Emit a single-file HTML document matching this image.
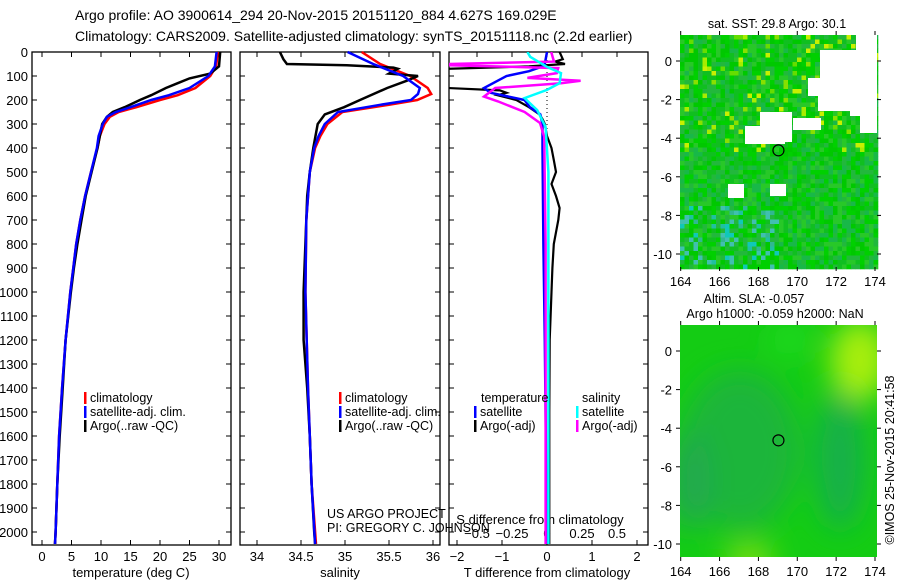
<!DOCTYPE html>
<html><head><meta charset="utf-8"><style>
html,body{margin:0;padding:0;background:#fff;}
svg{display:block;font-family:"Liberation Sans",sans-serif;}
</style></head><body>
<svg id="c" width="900" height="580" viewBox="0 0 900 580" xmlns="http://www.w3.org/2000/svg">
<rect width="900" height="580" fill="#fff"/>
<text x="75" y="20" font-size="14">Argo profile: AO 3900614_294 20-Nov-2015 20151120_884 4.627S 169.029E</text>
<text x="75" y="41" font-size="14">Climatology: CARS2009. Satellite-adjusted climatology: synTS_20151118.nc (2.2d earlier)</text>
<g id="maps"></g>
<g id="panels"></g>
</svg>
<script>
// ---------- data ----------
const tDepth = [0,60,90,110,130,150,180,200,230,250,270,300,400,500,600,700,800,900,1000,1200,1400,1600,1800,2000,2050];
const tArgo  = [30.2,30.0,28.5,25,23,21,18.5,16.6,14,12,11,10.2,9.4,8.4,7.4,6.7,6.0,5.4,4.9,4.0,3.5,3.0,2.6,2.3,2.2];
const tClimDepth = [0,60,100,150,180,200,230,250,270,300,350,400,500,600,700,800,900,1000,1200,1400,1600,1800,2000,2050];
const tClim  = [29.8,29.5,28.5,26,23,20,16,13,11.5,10.6,9.8,9.4,8.3,7.3,6.5,5.8,5.3,4.8,4.0,3.4,2.9,2.6,2.3,2.2];
const tSat   = [29.6,29.3,28.2,25,21.5,18.5,15,12.5,11,10.3,9.6,9.3,8.3,7.3,6.5,5.8,5.3,4.8,4.0,3.4,2.9,2.6,2.3,2.2];

const sArgoDepth = [0,30,50,55,65,70,90,100,120,150,200,230,260,300,400,500,600,800,1000,1200,1400,1600,1800,2000,2050];
const sArgo = [34.26,34.3,34.34,35.02,35.55,35.6,35.5,35.83,35.7,35.48,35.17,34.99,34.77,34.69,34.64,34.6,34.57,34.55,34.53,34.53,34.57,34.6,34.62,34.65,34.66];
const sClimDepth = [0,50,100,150,175,200,220,250,300,350,400,500,700,1000,1400,1800,2050];
const sClim = [35.19,35.4,35.74,35.94,35.98,35.82,35.5,34.97,34.8,34.72,34.66,34.6,34.56,34.55,34.58,34.62,34.67];
const sSat  = [35.03,35.32,35.66,35.85,35.83,35.75,35.4,34.92,34.77,34.7,34.65,34.6,34.56,34.55,34.58,34.62,34.66];

const dTArgoDepth = [0,30,40,50,60,70,80,150,160,170,180,200,230,260,280,300,350,400,450,500,550,600,650,700,800,900,1000,1100,1200,1500,2050];
const dTArgo = [0.28,0.35,0.18,0.4,-0.4,-2.2,-2.3,-2.2,-1.05,-0.9,-1.1,-0.68,-0.4,-0.17,-0.1,-0.05,0,0.1,0.15,0.2,0.1,0.2,0.28,0.25,0.15,0.12,0.1,0.08,0.06,0.05,0.05];
const dTSatDepth = [0,50,60,80,100,120,150,170,200,230,260,300,400,800,1200,2050];
const dTSat = [0,-0.05,-0.1,-0.4,-0.9,-1.1,-1.4,-1.25,-0.5,-0.38,-0.15,-0.1,-0.1,-0.08,-0.05,0];
const dSArgoDepth = [0,40,50,55,67,88,108,120,130,150,186,206,250,296,353,800,2050];
const dSArgo = [0.03,0.05,-0.7,-0.7,0.08,0.07,-0.14,0.24,0.1,-0.37,-0.45,-0.35,-0.16,-0.05,-0.02,-0.01,-0.01];
const dSSatDepth = [0,20,62,88,130,158,192,242,312,500,2050];
const dSSat = [-0.14,-0.12,0,0.1,0.09,0,-0.16,-0.07,-0.01,0.01,0.01];

const depthTicks = [0,100,200,300,400,500,600,700,800,900,1000,1100,1200,1300,1400,1500,1600,1700,1800,1900,2000];
const tempTicks = [0,5,10,15,20,25,30];
const salTicks = [34,34.5,35,35.5,36];
const dTTicks = [-2,-1,0,1,2];
const dSTicks = [-0.5,-0.25,0,0.25,0.5];
const lonTicks = [164,166,168,170,172,174];
const latTicks = [0,-2,-4,-6,-8,-10];

// ---------- helpers ----------
const NS="http://www.w3.org/2000/svg";
const G=document.getElementById('panels');
function mk(tag,attrs,parent){const e=document.createElementNS(NS,tag);for(const k in attrs)e.setAttribute(k,attrs[k]);(parent||G).appendChild(e);return e;}
const yTop=52, yBot=545;
const yD=d=>yTop+d*0.24;
const xT=t=>42+t*5.9;
const xS=s=>257+(s-34)*88;
const xDT=v=>547+v*45;
const xDS=v=>547+v*140;

function line(depths,vals,xf,color,w,name,minX){
  const lo=(minX===undefined)?-1e9:minX;
  const pts=depths.map((d,i)=>Math.max(lo,xf(vals[i])).toFixed(1)+','+yD(d).toFixed(1)).join(' ');
  const p=mk('polyline',{points:pts,fill:'none',stroke:color,'stroke-width':w});
  
  
  return p;
}
function frame(x0,x1,name){
  const r=mk('rect',{x:x0,y:yTop,width:x1-x0,height:yBot-yTop,fill:'none',stroke:'#000','stroke-width':1.3});
  
  
}
function txt(x,y,s,opts,name){
  const t=mk('text',Object.assign({x:x,y:y,'font-size':13},opts||{}));
  t.textContent=s;
  
  
  return t;
}
function ticksX(vals,xf,fmt,labelY,top,bottom){
  vals.forEach(v=>{const x=xf(v);
    if(bottom) mk('line',{x1:x,x2:x,y1:yBot,y2:yBot-5,stroke:'#000'});
    if(top) mk('line',{x1:x,x2:x,y1:yTop,y2:yTop+5,stroke:'#000'});
    if(labelY) txt(x,labelY,fmt(v),{'text-anchor':'middle'},'x-tick-label');
  });
}
function ticksY(x0,x1,label){
  depthTicks.forEach(d=>{const y=yD(d);
    mk('line',{x1:x0,x2:x0+5,y1:y,y2:y,stroke:'#000'});
    mk('line',{x1:x1,x2:x1-5,y1:y,y2:y,stroke:'#000'});
    if(label) txt(28,y+5,String(d),{'text-anchor':'end'},'depth-tick-label');
  });
}
function legend(x,y,items){
  items.forEach((it,i)=>{
    const b=mk('rect',{x:x,y:y+i*14-10,width:2.5,height:12,fill:it[1]});
    
    
    txt(x+6,y+i*14,it[0],{'font-size':12.5},'legend-entry');
  });
}

// ---------- panel 1: temperature ----------
frame(32,231,'temperature-panel');
ticksY(32,231,true);
ticksX(tempTicks,xT,v=>String(v),561,true,true);
line(tClimDepth,tClim,xT,'#f00',2.5,'temp-climatology-line');
line(tDepth,tArgo,xT,'#000',2.5,'temp-argo-line');
line(tClimDepth,tSat,xT,'#00f',2.5,'temp-satellite-line');
txt(131,577,'temperature (deg C)',{'text-anchor':'middle'},'x-axis-title-temperature');
legend(84,402,[['climatology','#f00'],['satellite-adj. clim.','#00f'],['Argo(..raw -QC)','#000']]);

// ---------- panel 2: salinity ----------
frame(240,440,'salinity-panel');
ticksY(240,440,false);
ticksX(salTicks,xS,v=>String(v),561,true,true);
line(sClimDepth,sClim,xS,'#f00',2.5,'sal-climatology-line');
line(sArgoDepth,sArgo,xS,'#000',2.5,'sal-argo-line');
line(sClimDepth,sSat,xS,'#00f',2.5,'sal-satellite-line');
txt(340,577,'salinity',{'text-anchor':'middle'},'x-axis-title-salinity');
legend(339,402,[['climatology','#f00'],['satellite-adj. clim.','#00f'],['Argo(..raw -QC)','#000']]);
txt(327,518,'US ARGO PROJECT',{'font-size':12.5},'project-credit');
txt(327,532,'PI: GREGORY C. JOHNSON',{'font-size':12.5},'pi-credit');

// ---------- panel 3: differences ----------
frame(449,648,'difference-panel');
ticksY(449,648,false);
ticksX(dTTicks,xDT,v=>v<0?'\u2212'+Math.abs(v):String(v),561,false,true);
ticksX(dSTicks,xDS,v=>'',0,true,false);
dSTicks.forEach(v=>txt(xDS(v),538,v<0?'\u2212'+Math.abs(v):String(v),{'text-anchor':'middle'},'s-diff-tick-label'));
txt(540,524,'S difference from climatology',{'text-anchor':'middle'},'s-diff-axis-title');
txt(547,577,'T difference from climatology',{'text-anchor':'middle'},'x-axis-title-t-diff');
const dot=mk('line',{x1:547,x2:547,y1:yTop,y2:yD(400),stroke:'#000','stroke-dasharray':'1,3'});


const clip=mk('clipPath',{id:'cp3'});mk('rect',{x:449,y:yTop,width:199,height:yBot-yTop},clip);
const g3=mk('g',{'clip-path':'url(#cp3)'});
[line(dTArgoDepth,dTArgo,xDT,'#000',2.2,'t-diff-argo-line',445),
 line(dTSatDepth,dTSat,xDT,'#00f',2.5,'t-diff-satellite-line',445),
 line(dSArgoDepth,dSArgo,xDS,'#f0f',2.5,'s-diff-argo-line',445),
 line(dSSatDepth,dSSat,xDS,'#0ff',2.5,'s-diff-satellite-line',445)].forEach(p=>g3.appendChild(p));
txt(481,402,'temperature',{'font-size':12.5},'legend-header-temperature');
txt(582,402,'salinity',{'font-size':12.5},'legend-header-salinity');
legend(474,416,[['satellite','#00f'],['Argo(-adj)','#000']]);
legend(576,416,[['satellite','#0ff'],['Argo(-adj)','#f0f']]);

// ---------- maps ----------
const M=document.getElementById('maps');
function mapAxes(top,bot,lat0y,lat10y,name){
  const xL=680,xR=877;
  const xl=l=>680.7+(l-164)*19.43;
  const yl=l=>lat0y+(lat10y-lat0y)*(-l/10);
  lonTicks.forEach(l=>{mk('line',{x1:xl(l),x2:xl(l),y1:top,y2:top-4,stroke:'#000'},M);mk('line',{x1:xl(l),x2:xl(l),y1:bot,y2:bot+4,stroke:'#000'},M);
    const t=mk('text',{x:xl(l),y:bot+19,'font-size':13,'text-anchor':'middle'},M);t.textContent=l;
    
    });
  latTicks.forEach(l=>{mk('line',{x1:xL,x2:xL-4,y1:yl(l),y2:yl(l),stroke:'#000'},M);mk('line',{x1:xR,x2:xR+4,y1:yl(l),y2:yl(l),stroke:'#000'},M);
    const t=mk('text',{x:672,y:yl(l)+5,'font-size':13,'text-anchor':'end'},M);t.textContent=l;
    
    });
  const c=mk('circle',{cx:xl(169.03),cy:yl(-4.63),r:5.5,fill:'none',stroke:'#000','stroke-width':1.2},M);
  
  
}
// top SST map: blocky cells (decorative texture)
const h=(i,j)=>{let n=(i*374761393+j*668265263)|0;n=(n^(n>>>13))*1274126177|0;return ((n^(n>>>16))>>>0)/4294967296;};
const topG=mk('g',{},M);
const cs=4.5, top0=35, left0=680;
const pal=['#00c800','#10bf20','#22b83c','#00d000','#28c828','#18b848'];
for(let j=0;j<52;j++)for(let i=0;i<44;i++){
  const r=h(i,j); let col=pal[Math.floor(r*pal.length)];
  const lx=i/44, ly=j/52;
  if(ly>0.72 && lx<0.5 && r>0.75) col=['#20c0a0','#30b890','#10c8b8','#40c0b0'][Math.floor(r*40)%4];
  if(ly<0.5 && r>0.9) col=['#88e000','#a8ec00','#c8f000','#66dd00'][Math.floor(r*400)%4];
  mk('rect',{x:left0+i*cs,y:top0+j*cs,width:cs+0.3,height:cs+0.3,fill:col},topG);
}
[[856,35,21,22],[820,50,57,30],[808,78,69,18],[818,96,40,15],[760,112,32,30],[793,118,28,12],[745,126,40,18],[770,184,16,12],[728,184,16,14],[860,115,17,18],[850,96,27,20]].forEach(a=>{
  mk('rect',{x:a[0],y:a[1],width:a[2],height:a[3],fill:'#fff'},topG);});
mapAxes(35,267,61,254,'sst-map');
{const t=mk('text',{x:777,y:28,'font-size':12.5,'text-anchor':'middle'},M);t.textContent='sat. SST: 29.8 Argo: 30.1';
}

// bottom SLA map: smooth
const defs=mk('defs',{},M);
const f=mk('filter',{id:'bl',x:'-50%',y:'-50%',width:'200%',height:'200%'},defs);mk('feGaussianBlur',{stdDeviation:14},f);
const cp=mk('clipPath',{id:'cpm'},defs);mk('rect',{x:680,y:325,width:197,height:232},cp);
const bg=mk('g',{'clip-path':'url(#cpm)',},M);
mk('rect',{x:680,y:325,width:197,height:232,fill:'#14cc14'},bg);
const bb=mk('g',{filter:'url(#bl)'},bg);
mk('ellipse',{cx:740,cy:450,rx:60,ry:80,fill:'#1ab53a'},bb);
mk('ellipse',{cx:840,cy:460,rx:25,ry:70,fill:'#18b048'},bb);
mk('ellipse',{cx:690,cy:480,rx:20,ry:50,fill:'#20a850'},bb);
mk('ellipse',{cx:860,cy:360,rx:30,ry:40,fill:'#a8ee10'},bb);
mk('ellipse',{cx:750,cy:560,rx:25,ry:15,fill:'#88e010'},bb);
mk('ellipse',{cx:790,cy:340,rx:20,ry:15,fill:'#22dd22'},bb);
mapAxes(325,557,351,544,'sla-map');
{const t=mk('text',{x:754,y:303,'font-size':12.5,'text-anchor':'middle'},M);t.textContent='Altim. SLA: -0.057';

const t2=mk('text',{x:775,y:318,'font-size':12.5,'text-anchor':'middle'},M);t2.textContent='Argo h1000: -0.059 h2000: NaN';

const t3=mk('text',{x:0,y:0,'font-size':12.5,'text-anchor':'middle',transform:'translate(894,460) rotate(-90)'},M);t3.textContent='\u00a9IMOS 25-Nov-2015 20:41:58';
}
</script>
</body></html>
